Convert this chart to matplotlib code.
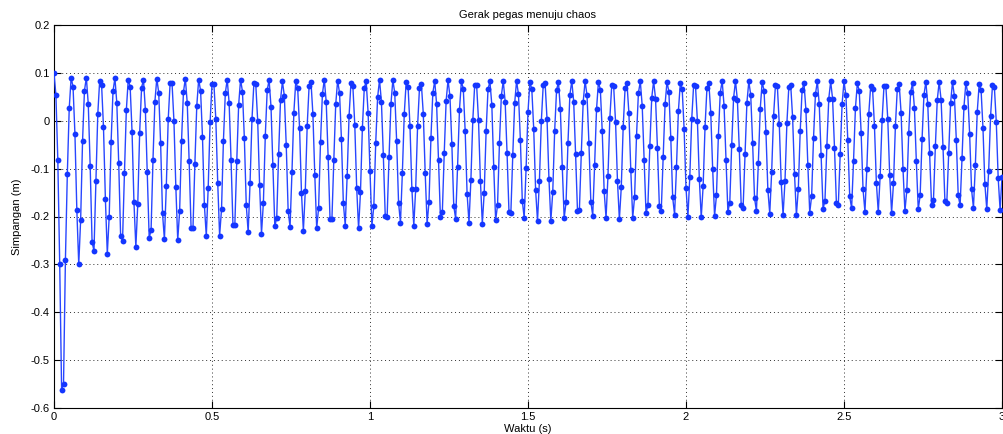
import numpy as np
import matplotlib
matplotlib.use("Agg")
import matplotlib.pyplot as plt

plt.rcParams['font.family'] = ['Liberation Sans', 'DejaVu Sans']
plt.rcParams['axes.unicode_minus'] = False

title = "Gerak pegas menuju chaos"
xlabel = "Waktu (s)"
ylabel = "Simpangan (m)"
t_start, t_end = 0.0, 3.0
xticks = [0, 0.5, 1, 1.5, 2, 2.5, 3]
xticklabels = ["0", "0.5", "1", "1.5", "2", "2.5", "3"]
yticks = [-0.6, -0.5, -0.4, -0.3, -0.2, -0.1, 0, 0.1, 0.2]
yticklabels = ["-0.6", "-0.5", "-0.4", "-0.3", "-0.2", "-0.1", "0", "0.1", "0.2"]

seg_a = [0.100, 0.054, -0.081, -0.300, -0.563, -0.550, -0.290, -0.111, 0.026, 0.090,
         0.071, -0.028, -0.187, -0.300, -0.207, -0.042, 0.063, 0.090, 0.035, -0.094,
         -0.253, -0.272, -0.125, 0.014, 0.084, 0.075, -0.014, -0.164, -0.278, -0.200,
         -0.044, 0.062, 0.089, 0.037, -0.089, -0.241, -0.251, -0.110, 0.022, 0.086,
         0.071, -0.023, -0.170, -0.264, -0.174, -0.025, 0.069, 0.086, 0.023, -0.108,
         -0.245, -0.228, -0.081, 0.040, 0.088, 0.059, -0.046, -0.193, -0.248, -0.136,
         0.003, 0.079, 0.079]
seg_b = [0.000, -0.138, -0.249, -0.188, -0.042, 0.060, 0.088, 0.037, -0.085, -0.223,
         -0.225, -0.091, 0.031, 0.086, 0.063, -0.034, -0.176, -0.241, -0.140, -0.003,
         0.077, 0.077, 0.004, -0.129, -0.240, -0.185, -0.042, 0.058, 0.086, 0.037,
         -0.081, -0.217, -0.217, -0.085, 0.033, 0.086, 0.061, -0.037, -0.176, -0.233,
         -0.129, 0.003, 0.078, 0.076, 0.000, -0.134, -0.236, -0.171, -0.031, 0.064,
         0.085, 0.029, -0.092, -0.220, -0.203, -0.069, 0.044, 0.082, 0.052, -0.051,
         -0.188, -0.222, -0.108, 0.017, 0.082, 0.069, -0.015, -0.150]
seg_c = [-0.230, -0.147, -0.011, 0.072, 0.081, 0.014, -0.113, -0.225, -0.182, -0.045,
         0.056, 0.086, 0.039, -0.075, -0.205, -0.205, -0.081, 0.035, 0.084, 0.058,
         -0.039, -0.172, -0.219, -0.115, 0.010, 0.079, 0.072, -0.008, -0.140, -0.225,
         -0.149, -0.015, 0.069, 0.082, 0.017, -0.106, -0.219, -0.179, -0.047, 0.049,
         0.085, 0.040, -0.072, -0.198, -0.200, -0.076, 0.035, 0.085, 0.058, -0.043,
         -0.171, -0.213, -0.109, 0.014, 0.081, 0.071, -0.011, -0.142, -0.219, -0.142,
         -0.011, 0.069, 0.076, 0.014, -0.110]
seg_d = [-0.215, -0.169, -0.037, 0.058, 0.083, 0.034, -0.081, -0.202, -0.191, -0.067,
         0.042, 0.085, 0.051, -0.049, -0.178, -0.205, -0.096, 0.023, 0.082, 0.067,
         -0.022, -0.152, -0.213, -0.124, 0.001, 0.075, 0.075, 0.001, -0.125, -0.215,
         -0.150, -0.022, 0.066, 0.082, 0.033, -0.097, -0.208, -0.176, -0.047, 0.052,
         0.083, 0.040, -0.068, -0.190, -0.192, -0.072, 0.037, 0.083, 0.055, -0.041,
         -0.167, -0.203, -0.099, 0.019, 0.081, 0.066, -0.017, -0.145, -0.209, -0.125,
         -0.001, 0.075, 0.078, 0.003, -0.121]
seg_e = [-0.209, -0.149, -0.022, 0.064, 0.081, 0.024, -0.096, -0.203, -0.170, -0.046,
         0.054, 0.083, 0.040, -0.070, -0.189, -0.186, -0.068, 0.040, 0.083, 0.053,
         -0.046, -0.169, -0.198, -0.092, 0.024, 0.081, 0.065, -0.022, -0.147, -0.203,
         -0.116, 0.006, 0.075, 0.072, -0.003, -0.126, -0.206, -0.139, -0.013, 0.068,
         0.078, 0.016, -0.103, -0.203, -0.159, -0.032, 0.058, 0.082, 0.031, -0.081,
         -0.193, -0.176, -0.053, 0.048, 0.083, 0.046, -0.057, -0.178, -0.188, -0.075,
         0.034, 0.081, 0.061, -0.035, -0.160, -0.196]
seg_f = [-0.097, 0.020, 0.078, 0.066, -0.017, -0.140, -0.201, -0.117, 0.003, 0.074,
         0.072, -0.001, -0.122, -0.202, -0.137, -0.013, 0.068, 0.079, 0.017, -0.100,
         -0.199, -0.156, -0.032, 0.059, 0.083, 0.031, -0.081, -0.190, -0.171, -0.051,
         0.048, 0.083, 0.043, -0.060, -0.177, -0.182, -0.069, 0.038, 0.082, 0.054,
         -0.047, -0.161, -0.189, -0.088, 0.025, 0.081, 0.063, -0.024, -0.144, -0.194,
         -0.107, 0.010, 0.075, 0.072, -0.007, -0.128, -0.197, -0.126, -0.005, 0.070,
         0.075, 0.007, -0.111, -0.197, -0.142, -0.021]
seg_g = [0.065, 0.078, 0.022, -0.092, -0.192, -0.157, -0.035, 0.056, 0.082, 0.034,
         -0.072, -0.184, -0.167, -0.052, 0.046, 0.082, 0.046, -0.056, -0.171, -0.177,
         -0.069, 0.035, 0.082, 0.054, -0.041, -0.158, -0.183, -0.085, 0.026, 0.078,
         0.063, -0.025, -0.143, -0.190, -0.100, 0.014, 0.072, 0.067, -0.011, -0.129,
         -0.191, -0.115, 0.001, 0.072, 0.072, 0.003, -0.113, -0.192, -0.131, -0.011,
         0.067]
seg_h = [0.076, 0.016, -0.101, -0.189, -0.145, -0.025, 0.060, 0.078, 0.026, -0.085,
         -0.185, -0.156, -0.039, 0.054, 0.081, 0.035, -0.068, -0.177, -0.165, -0.053,
         0.044, 0.081, 0.044, -0.054, -0.167, -0.172, -0.067, 0.037, 0.081, 0.051,
         -0.040, -0.156, -0.177, -0.078, 0.028, 0.079, 0.058, -0.028, -0.143, -0.182,
         -0.093, 0.019, 0.076, 0.065, -0.015, -0.132, -0.185, -0.104, 0.010, 0.074,
         0.070, -0.003, -0.120, -0.186, -0.118]

y = np.array(seg_a + seg_b + seg_c + seg_d + seg_e + seg_f + seg_g + seg_h)
t = np.linspace(t_start, t_end, len(y))

fig = plt.figure(figsize=(10.04, 4.34), dpi=100)
ax = fig.add_axes([54 / 1004, 1 - 408 / 434, (1002 - 54) / 1004, (408 - 25) / 434])

ax.plot(t, y, '-', color='#2846ff', linewidth=1.0, zorder=3)
ax.plot(t, y, 'o', color='#1436ff', markersize=4.2, markeredgewidth=0, zorder=4)

ax.set_xlim(0, 3)
ax.set_ylim(-0.6, 0.2)
ax.set_xticks(xticks)
ax.set_xticklabels(xticklabels)
ax.set_yticks(yticks)
ax.set_yticklabels(yticklabels)
ax.tick_params(direction='in', length=5, width=0.8, labelsize=8, top=True, right=True,
               pad=3, colors='black')
ax.grid(True, linestyle=(0, (1, 3)), color='#303030', linewidth=0.7)
for s in ax.spines.values():
    s.set_linewidth(0.8)
    s.set_color('black')

ax.set_title(title, fontsize=8, pad=5)
ax.set_xlabel(xlabel, fontsize=8, labelpad=1)
ax.set_ylabel(ylabel, fontsize=8, labelpad=6)

fig.savefig("out.png", dpi=100, facecolor='white')
